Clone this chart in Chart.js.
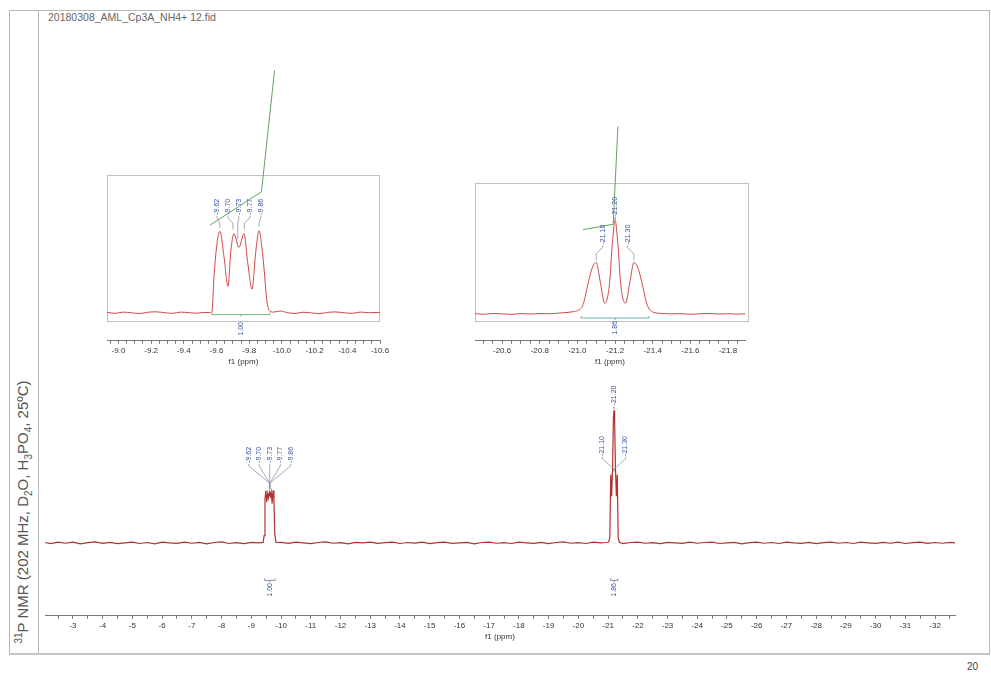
<!DOCTYPE html>
<html>
<head>
<meta charset="utf-8">
<script src="https://cdn.jsdelivr.net/npm/chart.js@4.4.1/dist/chart.umd.min.js"></script>
<style>
  body { margin: 0; width: 991px; height: 677px; position: relative; background: #fff; overflow: hidden;
         font-family: "Liberation Sans", Arial, sans-serif; }
  .abs { position: absolute; }
  .frame { left: 9px; top: 10px; width: 979px; height: 642px; border: 1px solid #b8b8b8; border-bottom: 2px solid #c4c4c4; }
  .divider { left: 38px; top: 10px; width: 1px; height: 643px; background: #b8b8b8; }
  .ylabel { left: 23px; top: 512px; transform: translate(-50%, -50%) rotate(-90deg); white-space: nowrap;
            font-size: 15px; color: #555; }
  .ylabel sub, .ylabel sup { font-size: 10px; }
  .title { left: 48px; top: 11px; font-size: 10.5px; color: #666; }
  .page { left: 967px; top: 661px; font-size: 10px; color: #444; }
  .box { border: 1px solid #c2c2c2; }
</style>
</head>
<body>
<div class="abs frame"></div>
<div class="abs divider"></div>
<div class="abs title">20180308_AML_Cp3A_NH4+ 12.fid</div>
<div class="abs ylabel"><sup>31</sup>P NMR (202 MHz, D<sub>2</sub>O, H<sub>3</sub>PO<sub>4</sub>, 25ºC)</div>
<div class="abs page">20</div>

<div class="abs box" style="left:107px;top:175px;width:271px;height:145px"></div>
<div class="abs box" style="left:475px;top:183px;width:272px;height:137px"></div>

<canvas id="main" class="abs" style="left:40px;top:380px" width="925" height="262"></canvas>
<canvas id="inset1" class="abs" style="left:92px;top:60px" width="303" height="307"></canvas>
<canvas id="inset2" class="abs" style="left:460px;top:110px" width="300" height="257"></canvas>

<script>
// ---- data (ppm, intensity) ----
const mainSpectrum = [
  [-2.06,0.003],[-2.25,-0.004],[-2.5,0.006],[-2.75,-0.002],[-3.0,0.005],[-3.25,-0.006],[-3.5,0.002],[-3.75,0.007],
  [-4.0,-0.003],[-4.25,0.004],[-4.5,-0.005],[-4.75,0.001],[-5.0,0.006],[-5.25,-0.004],[-5.5,0.003],[-5.75,-0.007],
  [-6.0,0.005],[-6.25,0.000],[-6.5,-0.003],[-6.75,0.006],[-7.0,-0.002],[-7.25,0.004],[-7.5,-0.006],[-7.75,0.003],
  [-8.0,0.007],[-8.25,-0.004],[-8.5,0.002],[-8.75,-0.005],[-9.0,0.004],[-9.25,0.001],
  [-9.40,0.004],[-9.43,0.05],[-9.46,0.30],[-9.49,0.36],[-9.52,0.28],[-9.55,0.34],[-9.58,0.31],[-9.61,0.35],
  [-9.64,0.32],[-9.67,0.35],[-9.70,0.27],[-9.73,0.36],[-9.76,0.30],[-9.79,0.06],[-9.83,0.003],
  [-10.0,0.004],[-10.25,-0.003],[-10.5,0.006],[-10.75,0.001],[-11.0,-0.005],[-11.25,0.003],[-11.5,0.007],[-11.75,-0.002],
  [-12.0,0.002],[-12.25,-0.006],[-12.5,0.004],[-12.75,0.000],[-13.0,0.005],[-13.25,-0.003],[-13.5,0.002],[-13.75,0.006],
  [-14.0,-0.004],[-14.25,0.003],[-14.5,-0.001],[-14.75,0.005],[-15.0,-0.005],[-15.25,0.002],[-15.5,0.006],[-15.75,-0.003],
  [-16.0,0.001],[-16.25,0.004],[-16.5,-0.006],[-16.75,0.003],[-17.0,0.005],[-17.25,-0.002],[-17.5,0.002],[-17.75,-0.004],
  [-18.0,0.006],[-18.25,0.001],[-18.5,-0.003],[-18.75,0.004],[-19.0,-0.005],[-19.25,0.003],[-19.5,0.007],[-19.75,-0.002],
  [-20.0,0.002],[-20.25,-0.004],[-20.5,0.005],[-20.75,0.000],
  [-20.95,0.003],[-21.02,0.006],[-21.06,0.04],[-21.09,0.47],[-21.12,0.32],[-21.15,0.50],[-21.18,0.86],[-21.20,0.91],
  [-21.22,0.84],[-21.25,0.50],[-21.28,0.32],[-21.31,0.47],[-21.34,0.04],[-21.38,0.005],
  [-21.5,-0.004],[-21.75,0.003],[-22.0,0.006],[-22.25,-0.002],[-22.5,0.002],[-22.75,-0.005],[-23.0,0.004],[-23.25,0.001],
  [-23.5,-0.003],[-23.75,0.006],[-24.0,-0.002],[-24.25,0.003],[-24.5,0.005],[-24.75,-0.004],[-25.0,0.001],[-25.25,0.004],
  [-25.5,-0.006],[-25.75,0.002],[-26.0,0.006],[-26.25,-0.002],[-26.5,0.003],[-26.75,-0.004],[-27.0,0.005],[-27.25,0.000],
  [-27.5,-0.003],[-27.75,0.004],[-28.0,-0.005],[-28.25,0.002],[-28.5,0.006],[-28.75,-0.002],[-29.0,0.003],[-29.25,-0.004],
  [-29.5,0.005],[-29.75,0.001],[-30.0,-0.003],[-30.25,0.004],[-30.5,-0.002],[-30.75,0.005],[-31.0,-0.004],[-31.25,0.002],
  [-31.5,0.006],[-31.75,-0.003],[-32.0,0.003],[-32.25,-0.002],[-32.5,0.004],[-32.67,0.001]
];

const inset1Spectrum = [
  [-8.93,0.004],[-8.98,-0.003],[-9.03,0.006],[-9.08,0.001],[-9.13,-0.004],[-9.18,0.005],[-9.23,0.008],[-9.28,0.002],
  [-9.33,-0.003],[-9.38,0.006],[-9.43,0.002],[-9.48,-0.002],[-9.53,0.004],[-9.56,0.002],
  [-9.572,0.01],[-9.584,0.25],[-9.603,0.50],[-9.621,0.585],[-9.646,0.40],[-9.670,0.19],[-9.688,0.45],[-9.707,0.57],
  [-9.737,0.47],[-9.768,0.57],[-9.792,0.35],[-9.817,0.17],[-9.841,0.45],[-9.860,0.59],[-9.884,0.40],[-9.909,0.08],
  [-9.927,0.012],
  [-9.95,0.006],[-9.99,0.014],[-10.03,0.003],[-10.08,-0.004],[-10.13,0.005],[-10.18,0.000],[-10.23,-0.005],
  [-10.28,0.004],[-10.33,0.007],[-10.38,0.001],[-10.43,-0.003],[-10.48,0.006],[-10.53,0.002],[-10.60,0.004]
];
const inset1Integral = [[-9.56,0.63],[-9.875,0.87],[-9.955,1.74]];

const inset2Spectrum = [
  [-20.456,0.003],[-20.5,-0.002],[-20.55,0.004],[-20.6,0.001],[-20.65,-0.003],[-20.7,0.003],[-20.75,0.000],
  [-20.8,0.004],[-20.85,0.002],[-20.9,0.007],[-20.95,0.012],[-20.98,0.018],
  [-21.00,0.025],[-21.03,0.07],[-21.06,0.25],[-21.08,0.35],[-21.10,0.385],[-21.12,0.25],[-21.145,0.08],[-21.17,0.22],
  [-21.185,0.52],[-21.20,0.70],[-21.215,0.52],[-21.23,0.22],[-21.255,0.08],[-21.28,0.25],[-21.30,0.385],[-21.32,0.35],
  [-21.34,0.25],[-21.37,0.07],[-21.40,0.015],[-21.45,0.004],
  [-21.5,0.001],[-21.55,0.003],[-21.6,-0.002],[-21.65,0.002],[-21.7,0.004],[-21.75,0.000],[-21.8,0.002],
  [-21.85,-0.001],[-21.89,0.002]
];
const inset2Integral = [[-21.03,0.63],[-21.19,0.67],[-21.215,1.40]];

const mainTicks = [-3,-4,-5,-6,-7,-8,-9,-10,-11,-12,-13,-14,-15,-16,-17,-18,-19,-20,-21,-22,-23,-24,-25,-26,-27,-28,-29,-30,-31,-32];
const inset1Ticks = [-9.0,-9.2,-9.4,-9.6,-9.8,-10.0,-10.2,-10.4,-10.6];
const inset2Ticks = [-20.6,-20.8,-21.0,-21.2,-21.4,-21.6,-21.8];

const peakLabels9 = ['-9.62','-9.70','-9.73','-9.77','-9.86'];
const peakShifts9 = [-9.62,-9.70,-9.73,-9.77,-9.86];
const peakLabels21 = ['-21.10','-21.20','-21.30'];
const peakShifts21 = [-21.10,-21.20,-21.30];
const integralValues = ['1.00','1.86'];

// ---- helpers ----
const FONT = '"Liberation Sans", Arial, sans-serif';
const pick = (v, i) => Array.isArray(v) ? v[i] : v;

function buildTicks(majors, minor, min, max) {
  const out = [];
  const n0 = Math.ceil((min - majors[0]) / minor - 1e-6);
  const n1 = Math.floor((max - majors[0]) / minor + 1e-6);
  for (let k = n0; k <= n1; k++) out.push({ value: +(majors[0] + k * minor).toFixed(4) });
  return out;
}

// peak labels, connectors and integral marks, placed through the chart scales
const nmrPlugin = {
  id: 'nmr',
  afterDatasetsDraw(chart, args, o) {
    const { ctx } = chart;
    const X = v => chart.scales.x.getPixelForValue(v);
    const Y = v => chart.scales.y.getPixelForValue(v);
    ctx.save();
    ctx.font = o.fontSize + 'px ' + FONT;
    ctx.lineWidth = 0.8;
    (o.groups || []).forEach(g => {
      const n = g.labels.length, cx = X(g.center);
      g.labels.forEach((t, i) => {
        const lx = cx + (i - (n - 1) / 2) * g.spread;
        const yb = Y(pick(g.base, i));
        const px = g.converge ? cx : X(g.shifts[i]);
        ctx.strokeStyle = '#8d93a6';
        ctx.beginPath();
        ctx.moveTo(lx, yb + 1);
        ctx.lineTo(lx, yb + 3);
        ctx.lineTo(px, Y(pick(g.join, i)));
        ctx.lineTo(px, Y(pick(g.tip, i)));
        ctx.stroke();
        ctx.save();
        ctx.translate(lx, yb);
        ctx.rotate(-Math.PI / 2);
        ctx.fillStyle = '#3552a0';
        ctx.textAlign = 'left';
        ctx.textBaseline = 'middle';
        ctx.fillText(t, 0, 0);
        ctx.restore();
      });
    });
    (o.integrals || []).forEach(it => {
      const a = X(it.from), b = X(it.to), yb = Y(it.at), cx = (a + b) / 2;
      ctx.strokeStyle = it.color;
      ctx.beginPath();
      ctx.moveTo(a, yb - 2); ctx.lineTo(a, yb); ctx.lineTo(b, yb); ctx.lineTo(b, yb - 2);
      ctx.moveTo(cx, yb); ctx.lineTo(cx, yb + 2);
      ctx.stroke();
      ctx.save();
      ctx.translate(cx, Y(it.textAt));
      ctx.rotate(-Math.PI / 2);
      ctx.fillStyle = '#3552a0';
      ctx.textAlign = 'right';
      ctx.textBaseline = 'middle';
      ctx.fillText(it.text, 0, 0);
      ctx.restore();
    });
    ctx.restore();
  }
};

function spectrumChart(id, cfg) {
  return new Chart(document.getElementById(id), {
    type: 'line',
    data: { datasets: cfg.datasets },
    options: {
      responsive: false,
      animation: false,
      devicePixelRatio: 1,
      layout: { padding: cfg.padding },
      elements: { point: { radius: 0 }, line: { borderWidth: 1 } },
      scales: {
        x: {
          type: 'linear',
          reverse: true,
          min: cfg.xMin,
          max: cfg.xMax,
          afterBuildTicks: s => { s.ticks = buildTicks(cfg.majors, cfg.minor, cfg.xMin, cfg.xMax); },
          ticks: {
            autoSkip: false,
            maxRotation: 0,
            padding: 2,
            color: '#333',
            font: { family: FONT, size: cfg.tickFont },
            callback: v => cfg.majors.some(m => Math.abs(m - v) < 1e-6) ? v.toFixed(cfg.decimals) : ''
          },
          grid: { drawOnChartArea: false, tickLength: 3, color: '#777' },
          border: { color: '#777' },
          title: { display: true, text: 'f1 (ppm)', color: '#333', font: { family: FONT, size: cfg.tickFont }, padding: { top: 0, bottom: 0 } }
        },
        y: { display: false, min: cfg.yMin, max: cfg.yMax }
      },
      plugins: { legend: { display: false }, tooltip: { enabled: false }, nmr: cfg.nmr }
    },
    plugins: [nmrPlugin]
  });
}

const pts = arr => arr.map(([x, y]) => ({ x, y }));

// ---- main spectrum ----
spectrumChart('main', {
  padding: { left: 5, right: 10, top: 0, bottom: 0 },
  xMin: -32.67, xMax: -2.06, yMin: -0.5, yMax: 1.118,
  majors: mainTicks, minor: 0.5, decimals: 0, tickFont: 8,
  datasets: [{ data: pts(mainSpectrum), borderColor: '#b2312e', borderWidth: 1.2 }],
  nmr: {
    fontSize: 7,
    groups: [
      { labels: peakLabels9, shifts: peakShifts9, center: -9.62, spread: 10.5, converge: true,
        base: 0.549, join: 0.41, tip: 0.37 },
      { labels: peakLabels21, shifts: peakShifts21, center: -21.20, spread: 11.5, converge: true,
        base: [0.597, 0.944, 0.597], join: [0.507, 0.93, 0.507], tip: [0.49, 0.92, 0.49] }
    ],
    integrals: [
      { from: -9.44, to: -9.80, at: -0.257, textAt: -0.275, text: integralValues[0], color: '#6a7590' },
      { from: -21.08, to: -21.33, at: -0.257, textAt: -0.275, text: integralValues[1], color: '#6a7590' }
    ]
  }
});

// ---- inset around -9.7 ppm ----
spectrumChart('inset1', {
  padding: { left: 15, right: 15, top: 115, bottom: 0 },
  xMin: -10.60, xMax: -8.93, yMin: -0.2, yMax: 0.99,
  majors: inset1Ticks, minor: 0.05, decimals: 1, tickFont: 8,
  datasets: [
    { data: pts(inset1Spectrum), borderColor: '#d04848', borderWidth: 1, cubicInterpolationMode: 'monotone' },
    { data: pts(inset1Integral), borderColor: '#5fa35f', borderWidth: 1, clip: false }
  ],
  nmr: {
    fontSize: 7,
    groups: [
      { labels: peakLabels9, shifts: peakShifts9, center: -9.737, spread: 11, converge: false,
        base: 0.705, join: 0.645, tip: [0.61, 0.60, 0.53, 0.60, 0.62] }
    ],
    integrals: [
      { from: -9.572, to: -9.927, at: -0.012, textAt: -0.065, text: integralValues[0], color: '#4fa060' }
    ]
  }
});

// ---- inset around -21.2 ppm ----
spectrumChart('inset2', {
  padding: { left: 15, right: 15, top: 73, bottom: 0 },
  xMin: -21.89, xMax: -20.456, yMin: -0.2, yMax: 0.978,
  majors: inset2Ticks, minor: 0.05, decimals: 1, tickFont: 8,
  datasets: [
    { data: pts(inset2Spectrum), borderColor: '#d04848', borderWidth: 1, cubicInterpolationMode: 'monotone' },
    { data: pts(inset2Integral), borderColor: '#5fa35f', borderWidth: 1, clip: false }
  ],
  nmr: {
    fontSize: 7,
    groups: [
      { labels: peakLabels21, shifts: peakShifts21, center: -21.20, spread: 12.5, converge: false,
        base: [0.519, 0.726, 0.519], join: [0.45, 0.72, 0.45], tip: [0.40, 0.71, 0.40] }
    ],
    integrals: [
      { from: -21.02, to: -21.38, at: -0.03, textAt: -0.052, text: integralValues[1], color: '#4fa0a0' }
    ]
  }
});
</script>
</body>
</html>
